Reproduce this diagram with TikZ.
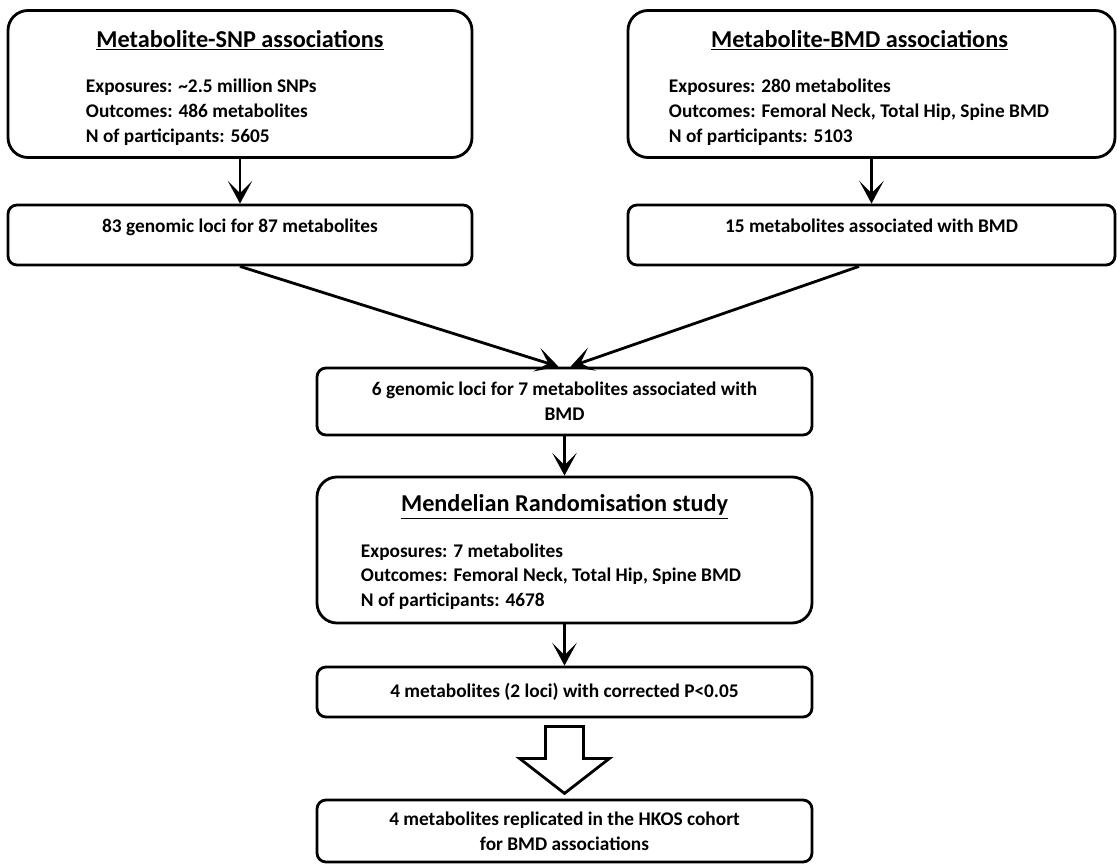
\documentclass[tikz,border=0pt]{standalone}
\usepackage{fontspec}
\setmainfont{Carlito}
\usetikzlibrary{arrows.meta,calc,positioning}

\begin{document}
\begin{tikzpicture}[
  bigbox/.style   = {draw=black, line width=1.6pt, rounded corners=0.4cm,
                     minimum width=#1, minimum height=2.94cm, inner sep=0pt},
  smallbox/.style = {draw=black, line width=1.6pt, rounded corners=0.18cm,
                     align=center, font=\bodyfont, inner sep=2pt,
                     minimum width=#1, minimum height=1.2cm},
  boxtitle/.style = {anchor=base, font=\titlefont, inner sep=0pt},
  boxbody/.style  = {anchor=base west, align=left, font=\bodyfont, inner sep=0pt},
  arr/.style      = {-{Stealth[length=13pt,width=14pt,inset=7pt]}, line width=1.6pt},
  hollow/.style   = {draw=black, line width=1.6pt, fill=white, line join=miter},
]
\newcommand{\titlefont}{\bfseries\fontsize{13.8}{16}\selectfont}
\newcommand{\bodyfont}{\bfseries\fontsize{11}{14}\selectfont}
\useasboundingbox (0,0) rectangle (22.34,-17.3);

% top row
\node[bigbox=9.28cm] (snp) at (4.8,-1.68) {};
\node[boxtitle] (snptitle) at ($(snp.north)+(0,-0.76)$) {\underline{Metabolite-SNP associations}};
\node[boxbody] (snpbody) at ($(snp.north west)+(1.58,-2.66)$)
  {Exposures: \textasciitilde 2.5 million SNPs\\Outcomes: 486 metabolites\\N of participants: 5605};

\node[bigbox=9.74cm] (bmd) at (17.43,-1.68) {};
\node[boxtitle] (bmdtitle) at ($(bmd.north)+(-0.24,-0.76)$) {\underline{Metabolite-BMD associations}};
\node[boxbody] (bmdbody) at ($(bmd.north west)+(0.84,-2.66)$)
  {Exposures: 280 metabolites\\Outcomes: Femoral Neck, Total Hip, Spine BMD\\N of participants: 5103};

% second row
\node[smallbox=9.28cm, text depth=0.36cm] (loci) at (4.8,-4.7) {83 genomic loci for 87 metabolites};
\node[smallbox=9.74cm, text depth=0.36cm] (assoc) at (17.43,-4.7) {15 metabolites associated with BMD};

% middle column
\node[smallbox=9.9cm, minimum height=1.34cm] (common) at (11.29,-8.03)
  {6 genomic loci for 7 metabolites associated with\\BMD};

\node[bigbox=9.9cm, minimum height=2.92cm] (mr) at (11.29,-11.0) {};
\node[boxtitle] (mrtitle) at ($(mr.north)+(0,-0.72)$) {\underline{Mendelian Randomisation study}};
\node[boxbody] (mrbody) at ($(mr.north west)+(0.9,-2.62)$)
  {Exposures: 7 metabolites\\Outcomes: Femoral Neck, Total Hip, Spine BMD\\N of participants: 4678};

\node[smallbox=9.9cm, minimum height=1.0cm] (sig) at (11.29,-13.84) {4 metabolites (2 loci) with corrected P<0.05};
\node[smallbox=9.9cm, minimum height=1.24cm] (hkos) at (11.29,-16.62)
  {4 metabolites replicated in the HKOS cohort\\for BMD associations};

% connectors
\draw[arr] (snp) -- (loci);
\draw[arr] (bmd) -- (assoc);
\draw[arr] (loci.south) -- ($(common.north)+(-0.12,0)$);
\draw[arr] ($(assoc.south)+(-0.25,0)$) -- ($(common.north)+(0.12,0)$);
\draw[arr] (common) -- (mr);
\draw[arr] (mr) -- (sig);
\draw[hollow] ($(sig.south)+(-0.38,-0.16)$) -- ++(0.76,0) -- ++(0,-0.64)
  -- ++(0.52,0) -- ($(sig.south)+(0,-1.5)$) -- ($(sig.south)+(-0.9,-0.8)$)
  -- ++(0.52,0) -- cycle;
\end{tikzpicture}
\end{document}
